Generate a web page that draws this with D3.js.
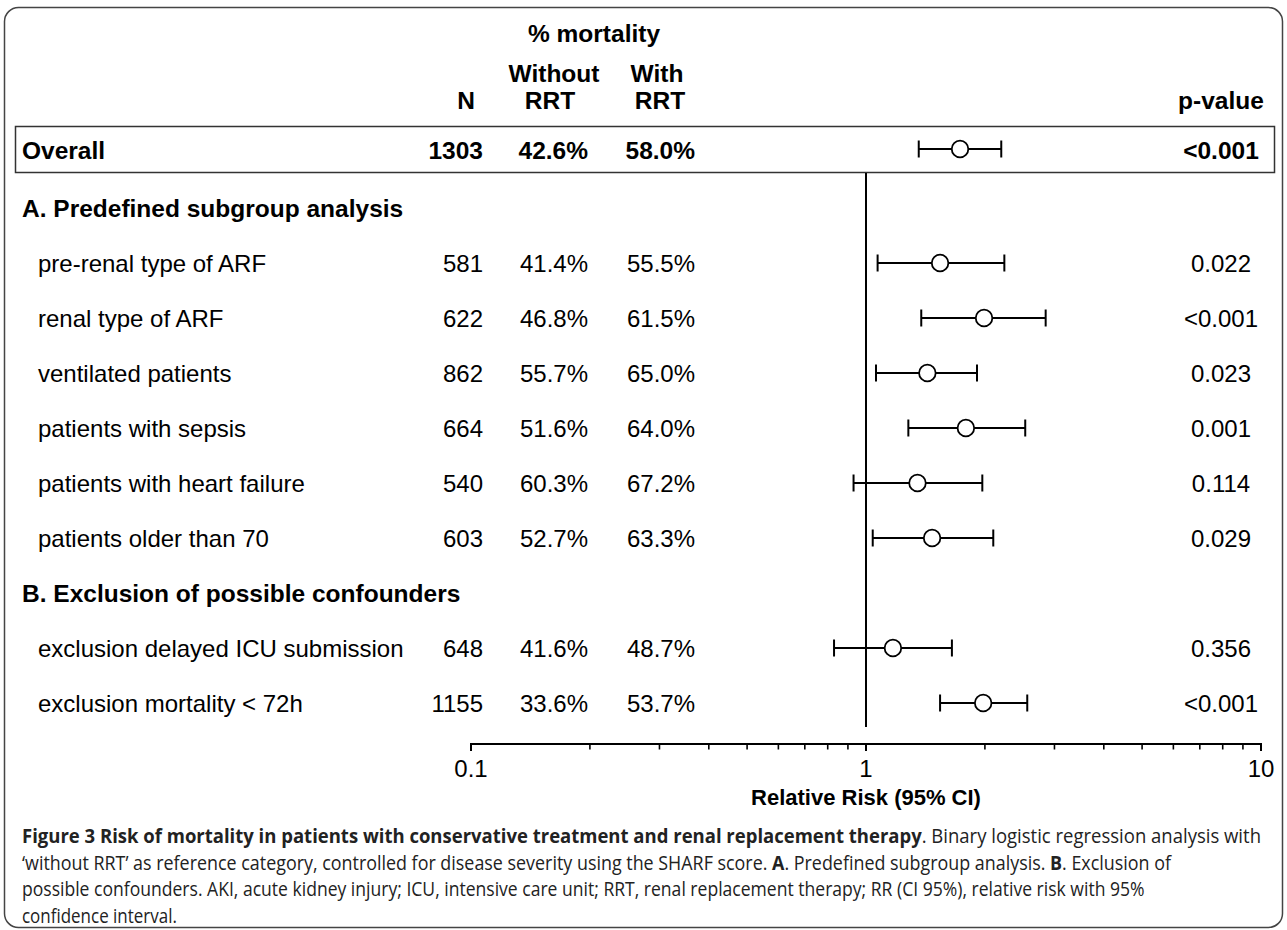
<!DOCTYPE html>
<html>
<head>
<meta charset="utf-8">
<script src="https://cdn.jsdelivr.net/npm/d3@7"></script>
<style>
  html, body { margin: 0; padding: 0; background: #fff; }
  svg { display: block; }
  text { font-family: "Liberation Sans", Arial, sans-serif; fill: #000; }
  .cap { font-family: "Open Sans", "Noto Sans", sans-serif; fill: #222; }
</style>
</head>
<body>
<svg id="chart" width="1287" height="930"></svg>
<script>
// ---------------- data ----------------
const overallLabel = "Overall";
const overallN = "1303";
const overallWithout = "42.6%";
const overallWith = "58.0%";
const overallRR = 1.73, overallLo = 1.36, overallHi = 2.20;
const overallP = "<0.001";

const sectionA = "A. Predefined subgroup analysis";
const sectionB = "B. Exclusion of possible confounders";

const subgroupLabels = [
  "pre-renal type of ARF",
  "renal type of ARF",
  "ventilated patients",
  "patients with sepsis",
  "patients with heart failure",
  "patients older than 70",
  "exclusion delayed ICU submission",
  "exclusion mortality < 72h"
];
const subgroupSection = ["A","A","A","A","A","A","B","B"];
const subgroupN = ["581","622","862","664","540","603","648","1155"];
const mortalityWithout = ["41.4%","46.8%","55.7%","51.6%","60.3%","52.7%","41.6%","33.6%"];
const mortalityWith = ["55.5%","61.5%","65.0%","64.0%","67.2%","63.3%","48.7%","53.7%"];
const rrValues = [1.54, 1.99, 1.43, 1.79, 1.35, 1.47, 1.17, 1.98];
const ciLower  = [1.07, 1.38, 1.06, 1.28, 0.93, 1.04, 0.83, 1.54];
const ciUpper  = [2.24, 2.85, 1.91, 2.53, 1.97, 2.10, 1.65, 2.56];
const pValues  = ["0.022","<0.001","0.023","0.001","0.114","0.029","0.356","<0.001"];

const majorTicks = [0.1, 1, 10];
const majorTickLabels = ["0.1", "1", "10"];
const minorTicks = [0.2,0.3,0.4,0.5,0.6,0.7,0.8,0.9,2,3,4,5,6,7,8,9];
const axisTitle = "Relative Risk (95% CI)";

const headerTop = "% mortality";
const headerN = "N";
const headerWithout = ["Without", "RRT"];
const headerWith = ["With", "RRT"];
const headerP = "p-value";

const captionLines = [
  [{t:"Figure 3 Risk of mortality in patients with conservative treatment and renal replacement therapy", b:true},{t:". Binary logistic regression analysis with", b:false}],
  [{t:"\u2018without RRT\u2019 as reference category, controlled for disease severity using the SHARF score. ", b:false},{t:"A", b:true},{t:". Predefined subgroup analysis. ", b:false},{t:"B", b:true},{t:". Exclusion of", b:false}],
  [{t:"possible confounders. AKI, acute kidney injury; ICU, intensive care unit; RRT, renal replacement therapy; RR (CI 95%), relative risk with 95%", b:false}],
  [{t:"confidence interval.", b:false}]
];
const captionWidths = [1240, 1150, 1123, 155];

// ---------------- layout ----------------
const svg = d3.select("#chart");
const FS = 24;
const FSB = 24.5;

const x = d3.scaleLog().domain([0.1, 10]).range([471, 1261]);

const bodyRows = [];
bodyRows.push({kind:"section", label: sectionA});
subgroupLabels.forEach((l, i) => {
  if (i === 6) bodyRows.push({kind:"section", label: sectionB});
  bodyRows.push({kind:"item", i});
});
const y = d3.scalePoint().domain(d3.range(bodyRows.length)).range([208, 703]);
const yOverall = 150;

const colLabelX = 38, colSectionX = 22, colNRight = 483, colWithoutRight = 588, colWithRight = 695, colP = 1221;

// outer rounded border
svg.append("rect")
  .attr("x", 4.5).attr("y", 7.5).attr("width", 1278).attr("height", 920)
  .attr("rx", 14).attr("ry", 14)
  .attr("fill", "none").attr("stroke", "#444").attr("stroke-width", 1.5);

// header
const hdr = svg.append("g").attr("font-weight", "bold").attr("font-size", FSB);
hdr.append("text").attr("x", 594).attr("y", 33).attr("dy", "0.36em").attr("text-anchor", "middle").text(headerTop);
hdr.append("text").attr("x", 554).attr("y", 73).attr("dy", "0.36em").attr("text-anchor", "middle").text(headerWithout[0]);
hdr.append("text").attr("x", 550).attr("y", 100).attr("dy", "0.36em").attr("text-anchor", "middle").text(headerWithout[1]);
hdr.append("text").attr("x", 657).attr("y", 73).attr("dy", "0.36em").attr("text-anchor", "middle").text(headerWith[0]);
hdr.append("text").attr("x", 660).attr("y", 100).attr("dy", "0.36em").attr("text-anchor", "middle").text(headerWith[1]);
hdr.append("text").attr("x", 466).attr("y", 100).attr("dy", "0.36em").attr("text-anchor", "middle").text(headerN);
hdr.append("text").attr("x", colP).attr("y", 100).attr("dy", "0.36em").attr("text-anchor", "middle").text(headerP);

// overall box
svg.append("rect")
  .attr("x", 15.5).attr("y", 126.5).attr("width", 1259).attr("height", 46)
  .attr("fill", "none").attr("stroke", "#333").attr("stroke-width", 1.5);

// reference line at RR = 1
svg.append("line")
  .attr("x1", x(1)).attr("x2", x(1))
  .attr("y1", 173).attr("y2", 727)
  .attr("stroke", "#000").attr("stroke-width", 2);

// overall row
const ov = svg.append("g").attr("font-weight", "bold").attr("font-size", FSB);
ov.append("text").attr("x", colSectionX).attr("y", yOverall).attr("dy", "0.36em").text(overallLabel);
ov.append("text").attr("x", colNRight).attr("y", yOverall).attr("dy", "0.36em").attr("text-anchor", "end").text(overallN);
ov.append("text").attr("x", colWithoutRight).attr("y", yOverall).attr("dy", "0.36em").attr("text-anchor", "end").text(overallWithout);
ov.append("text").attr("x", colWithRight).attr("y", yOverall).attr("dy", "0.36em").attr("text-anchor", "end").text(overallWith);
ov.append("text").attr("x", colP).attr("y", yOverall).attr("dy", "0.36em").attr("text-anchor", "middle").text(overallP);

function drawCI(g, yy, rr, lo, hi) {
  g.append("line").attr("x1", x(lo)).attr("x2", x(hi)).attr("y1", yy).attr("y2", yy)
    .attr("stroke", "#000").attr("stroke-width", 2.2);
  [lo, hi].forEach(v => {
    g.append("line").attr("x1", x(v)).attr("x2", x(v)).attr("y1", yy - 8.5).attr("y2", yy + 8.5)
      .attr("stroke", "#000").attr("stroke-width", 2);
  });
  g.append("circle").attr("cx", x(rr)).attr("cy", yy).attr("r", 8.3)
    .attr("fill", "#fff").attr("stroke", "#000").attr("stroke-width", 1.8);
}
drawCI(svg.append("g"), yOverall - 1, overallRR, overallLo, overallHi);

// body rows
const body = svg.append("g").attr("font-size", FS);
bodyRows.forEach((r, k) => {
  const yy = y(k);
  if (r.kind === "section") {
    body.append("text").attr("x", colSectionX).attr("y", yy).attr("dy", "0.36em")
      .attr("font-weight", "bold").attr("font-size", FSB).text(r.label);
  } else {
    const i = r.i;
    body.append("text").attr("x", colLabelX).attr("y", yy).attr("dy", "0.36em").text(subgroupLabels[i]);
    body.append("text").attr("x", colNRight).attr("y", yy).attr("dy", "0.36em").attr("text-anchor", "end").text(subgroupN[i]);
    body.append("text").attr("x", colWithoutRight).attr("y", yy).attr("dy", "0.36em").attr("text-anchor", "end").text(mortalityWithout[i]);
    body.append("text").attr("x", colWithRight).attr("y", yy).attr("dy", "0.36em").attr("text-anchor", "end").text(mortalityWith[i]);
    body.append("text").attr("x", colP).attr("y", yy).attr("dy", "0.36em").attr("text-anchor", "middle").text(pValues[i]);
    drawCI(body.append("g"), yy, rrValues[i], ciLower[i], ciUpper[i]);
  }
});

// x axis
const axisY = 744;
const ax = svg.append("g");
ax.append("line").attr("x1", x(0.1)).attr("x2", x(10)).attr("y1", axisY).attr("y2", axisY)
  .attr("stroke", "#000").attr("stroke-width", 2);
majorTicks.forEach(v => {
  ax.append("line").attr("x1", x(v)).attr("x2", x(v)).attr("y1", axisY - 1).attr("y2", axisY + 7)
    .attr("stroke", "#000").attr("stroke-width", 2);
});
minorTicks.forEach(v => {
  ax.append("line").attr("x1", x(v)).attr("x2", x(v)).attr("y1", axisY).attr("y2", axisY + 5.5)
    .attr("stroke", "#000").attr("stroke-width", 1.6);
});
majorTicks.forEach((v, i) => {
  ax.append("text").attr("x", x(v)).attr("y", 768).attr("dy", "0.36em")
    .attr("text-anchor", "middle").attr("font-size", 24).text(majorTickLabels[i]);
});
ax.append("text").attr("x", x(1)).attr("y", 797).attr("dy", "0.36em")
  .attr("text-anchor", "middle").attr("font-size", 22).attr("font-weight", "bold").text(axisTitle);

// caption (horizontally condensed via transform)
const capBase = [843, 869.5, 896, 922.5];
captionLines.forEach((segs, li) => {
  const g = svg.append("g");
  const t = g.append("text").attr("class", "cap").attr("x", 0).attr("y", 0).attr("font-size", 19.5);
  segs.forEach(s => {
    t.append("tspan").attr("font-weight", s.b ? "bold" : "normal").text(s.t);
  });
  const w = t.node().getComputedTextLength();
  const sx = captionWidths[li] / w;
  g.attr("transform", `translate(22,${capBase[li]}) scale(${sx},1)`);
});
</script>
</body>
</html>
